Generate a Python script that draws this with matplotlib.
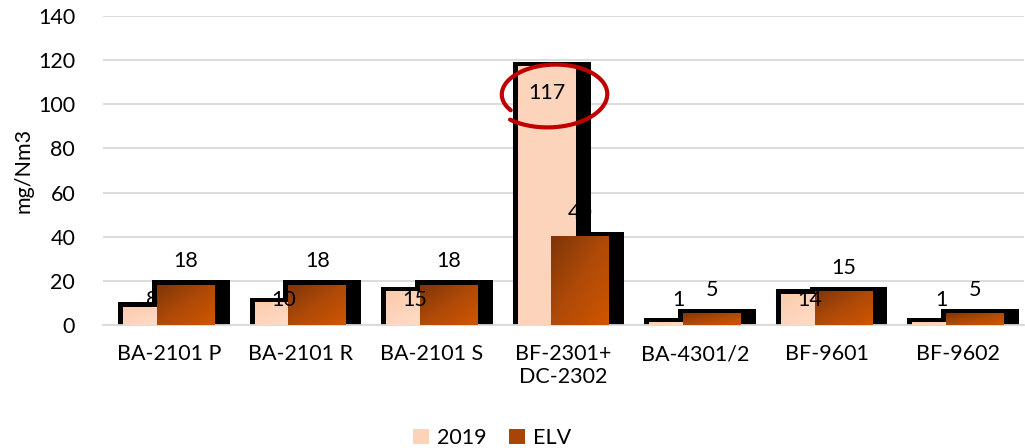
import numpy as np
import matplotlib
matplotlib.use("Agg")
import matplotlib.pyplot as plt
from matplotlib.patches import Rectangle, Patch
from matplotlib.colors import LinearSegmentedColormap

plt.rcParams['font.family'] = ['Lato', 'DejaVu Sans']

# data
categories = ["BA-2101 P", "BA-2101 R", "BA-2101 S", "BF-2301+\nDC-2302",
              "BA-4301/2", "BF-9601", "BF-9602"]
vals_2019 = [8, 10, 15, 117, 1, 14, 1]
vals_elv = [18, 18, 18, 40, 5, 15, 5]
series_names = ["2019", "ELV"]

# where the 2019 labels sit (data units), excel had them moved by hand
label_y_2019 = [11.3, 11.3, 11.3, 105, 11.3, 11.3, 11.3]

W, H = 1025, 448
fig = plt.figure(figsize=(W / 100, H / 100), dpi=100)
ax_l, ax_b, ax_w, ax_h = 103, 123, 921, 309
ax = fig.add_axes([ax_l / W, ax_b / H, ax_w / W, ax_h / H])

fs = 15.5
ymax = 140
px_x = 7 / ax_w        # data units per pixel, x
px_y = ymax / ax_h     # data units per pixel, y

bar_w = 0.44
offs = [-0.128, 0.128]

cmap_2019 = LinearSegmentedColormap.from_list("c19", ["#FCCBA9", "#FDD6BE", "#FEE1CF"])
cmap_elv = LinearSegmentedColormap.from_list("celv", ["#7E3609", "#B04A08", "#D05600"])

# diagonal gradient, top-left -> bottom-right
n = 64
u = np.linspace(0, 1, n)
grad = (u[None, :] + u[:, None]) / 2

x = np.arange(len(categories))

# shadows first (black, bigger than the bar, pushed up/right)
for k, vals in enumerate([vals_2019, vals_elv]):
    for i, v in enumerate(vals):
        x0 = x[i] + offs[k] - bar_w / 2
        ax.add_patch(Rectangle((x0 - 5 * px_x, -1.5 * px_y),
                               bar_w + 20 * px_x, v + 6.5 * px_y,
                               facecolor="black", edgecolor="none", zorder=2))

# gradient bars
for k, (vals, cm) in enumerate([(vals_2019, cmap_2019), (vals_elv, cmap_elv)]):
    for i, v in enumerate(vals):
        x0 = x[i] + offs[k] - bar_w / 2
        g = grad if v < 60 else np.full_like(grad, 0.45)   # tall bar looks flat in the original
        ax.imshow(g, cmap=cm, vmin=0, vmax=1, extent=(x0, x0 + bar_w, 0, v), origin="upper",
                  aspect="auto", interpolation="bilinear", zorder=3 + 2 * k)

# labels
for i, v in enumerate(vals_2019):
    ax.text(x[i] + offs[0], label_y_2019[i], str(v), ha="center", va="center",
            fontsize=fs, color="#000000", zorder=6)
for i, v in enumerate(vals_elv):
    ax.text(x[i] + offs[1], v + 24 * px_y, str(v), ha="center", va="center",
            fontsize=fs, color="#000000", zorder=6)

# red hand drawn ring round the 117
cx = x[3] + offs[0] + 5 * px_x
cy = 104.5
rx, ry = 53 * px_x, 30 * px_y
th = np.radians(np.linspace(219, -128, 300))
r = np.linspace(0.92, 1.13, 300)
tilt = np.radians(-6)
ex = rx * r * np.cos(th)
ey = ry * r * np.sin(th)
ax.plot(cx + ex * np.cos(tilt) - ey * rx / ry * np.sin(tilt),
        cy + ey * np.cos(tilt) + ex * ry / rx * np.sin(tilt) * 0.6,
        color="#C00000", lw=3.0, solid_capstyle="round", zorder=8, clip_on=False)

ax.set_xlim(-0.5, 6.5)
ax.set_ylim(0, ymax)
ax.set_yticks(range(0, 141, 20))
ax.set_xticks(x)
ax.set_xticklabels(categories, fontsize=fs, linespacing=1.15)
ax.tick_params(axis="y", labelsize=fs, length=0, pad=20)
ax.tick_params(axis="x", length=0, pad=14)
ax.grid(axis="y", color="#D9D9D9", lw=1.3, zorder=0)
ax.set_axisbelow(True)
for s in ["top", "right", "left"]:
    ax.spines[s].set_visible(False)
ax.spines["bottom"].set_color("#D9D9D9")
ax.spines["bottom"].set_linewidth(1.3)
ax.set_ylabel("mg/Nm3", fontsize=fs, labelpad=3)

handles = [Patch(facecolor="#FCD3B8", edgecolor="none"),
           Patch(facecolor="#A84506", edgecolor="none")]
fig.legend(handles, series_names, loc="center", bbox_to_anchor=(492 / W, 1 - 438 / H),
           ncol=2, frameon=False, fontsize=fs, handlelength=0.75, handleheight=0.75,
           handletextpad=0.4, columnspacing=1.0)

fig.savefig("out.png", dpi=100)
